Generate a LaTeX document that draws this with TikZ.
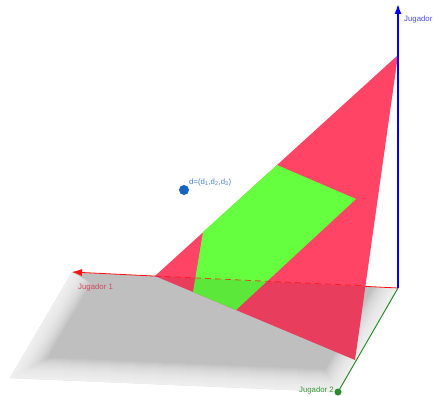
\documentclass[tikz,border=0pt]{standalone}
\usepackage{fontspec}
\setsansfont{Liberation Sans}
\usetikzlibrary{arrows.meta,calc}
\definecolor{ggbPink}{HTML}{FF4466}
\definecolor{ggbGreen}{HTML}{66FF40}
\definecolor{ggbRedAxis}{HTML}{FF1010}
\definecolor{ggbRedText}{HTML}{D04A5A}
\definecolor{ggbBlueAxis}{HTML}{0000FF}
\definecolor{ggbBlueText}{HTML}{4A4AFF}
\definecolor{ggbGreenAxis}{HTML}{2E8B2E}
\definecolor{ggbGreenText}{HTML}{3A9A3A}
\definecolor{ggbPointBlue}{HTML}{1565C0}
\definecolor{ggbLabelBlue}{HTML}{4A80C8}

\begin{document}
\begin{tikzpicture}[x=1pt,y=-1pt,
  axisline/.style={-{Latex[length=10pt,width=7pt]}},
  axislabel/.style={font=\sffamily\fontsize{7.8}{9}\selectfont, inner sep=0pt}]

\useasboundingbox (0,0) rectangle (437,396);

% --- AXIS ENDS ---
\coordinate (O) at (398,288);
\coordinate (J1end) at (72,272);
\coordinate (J2end) at (338,392);
\coordinate (J3end) at (398,4);
\coordinate (Pfar) at (10,378);

% --- PLANE (grey, soft edges) ---
\begin{scope}
  \clip (J1end) -- (O) -- (J2end) -- (Pfar) -- cycle;
  \fill[black!25] (J1end) -- (O) -- (J2end) -- (Pfar) -- cycle;
  \foreach \w in {2,4,...,44} {
    \draw[white, line width=\w pt, opacity=0.08, line join=round]
      (J1end) -- (Pfar) -- (J2end) -- (O);
  }
\end{scope}

% --- AXIS 1 (under the triangle) ---
\draw[axisline, ggbRedAxis, line width=0.8pt] (O) -- (J1end);

% --- TRIANGLE ---
\coordinate (A) at (155,276);
\coordinate (B) at (398,55);
\coordinate (C) at (355,360);
\coordinate (E) at ($(B)!0.757!(C)$);
\fill[ggbPink] (A) -- (B) -- (C) -- cycle;

% --- GREEN REGION ---
\def\dataGreen{203/232, 277/165, 356/199, 236/310, 193/292}
\foreach \xv/\yv [count=\i] in \dataGreen {
  \coordinate (g\i) at (\xv,\yv);
}
\fill[ggbGreen] (g1) -- (g2) -- (g3) -- (g4) -- (g5) -- cycle;

% --- PART BELOW THE PLANE (darker) ---
\begin{scope}
  \clip (J1end) -- (O) -- ($(O)+(0,120)$) -- ($(J1end)+(0,120)$) -- cycle;
  \fill[black, opacity=0.09] (A) -- (B) -- (C) -- cycle;
\end{scope}
\draw[ggbRedAxis, opacity=0.75, line width=0.8pt, dash pattern=on 6pt off 4pt]
  (A) -- (E);

% --- AXIS 2 ---
\draw[ggbGreenAxis, line width=1pt] (O) -- (J2end);
\node[circle, fill=ggbGreenAxis, inner sep=0pt, minimum size=7pt] (J2pt) at (J2end) {};

% --- AXIS 3 ---
\draw[axisline, ggbBlueAxis, line width=1.5pt] (O) -- (J3end);

% --- POINT d ---
\node[circle, fill=ggbPointBlue, inner sep=0pt, minimum size=10pt] (dpt) at (184,190) {};

% --- LABELS ---
\node[axislabel, text=ggbBlueText, anchor=west] (lblJ3) at (404,19) {Jugador};
\node[axislabel, text=ggbRedText, anchor=west] (lblJ1) at (78,287) {Jugador 1};
\node[axislabel, text=ggbGreenText, anchor=east] (lblJ2) at (334,390) {Jugador 2};
\node[axislabel, text=ggbLabelBlue, anchor=west] (lbld) at (189,182)
  {d=(d\textsubscript{1},d\textsubscript{2},d\textsubscript{3})};

\end{tikzpicture}
\end{document}
